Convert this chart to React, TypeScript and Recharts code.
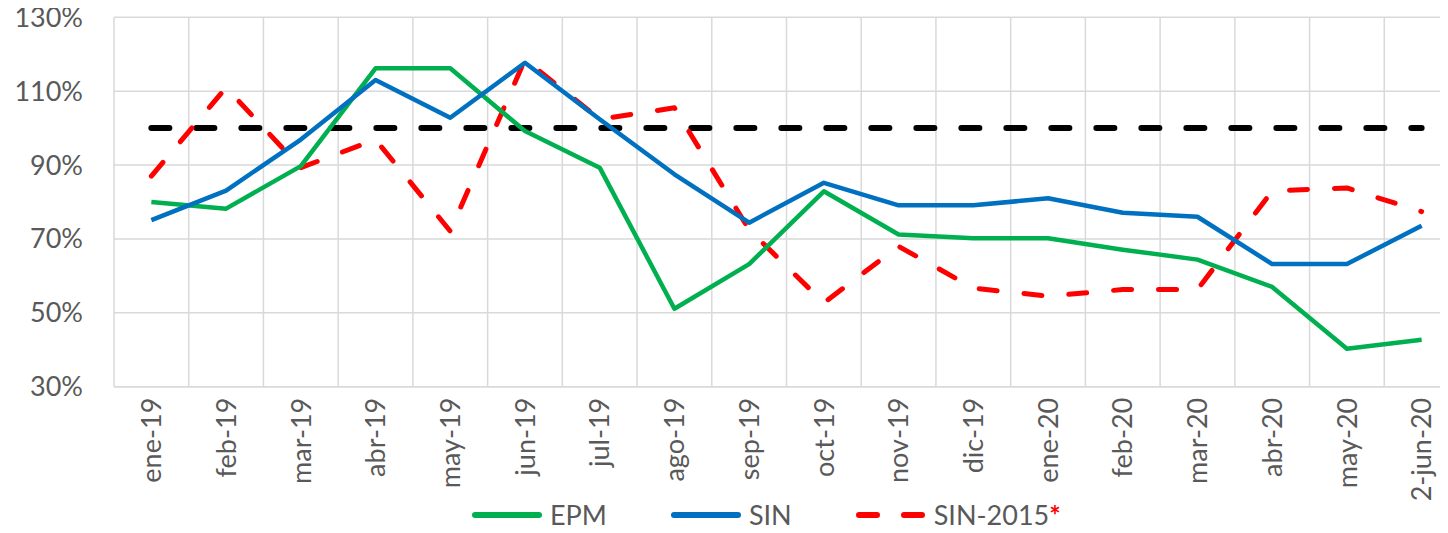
import React from 'react';
import { LineChart, Line, XAxis, YAxis, CartesianGrid, Legend } from 'recharts';

// categorías (meses)
const MESES = [
  'ene-19', 'feb-19', 'mar-19', 'abr-19', 'may-19', 'jun-19', 'jul-19', 'ago-19', 'sep-19',
  'oct-19', 'nov-19', 'dic-19', 'ene-20', 'feb-20', 'mar-20', 'abr-20', 'may-20', '2-jun-20',
];

// valores en %
const EPM = [80, 78.2, 89.7, 116.2, 116.2, 99.2, 89.3, 51.1, 63.2, 82.9, 71.2, 70.2, 70.2, 67.1, 64.4, 57, 40.3, 42.7];
const SIN = [75.1, 83.1, 96.9, 113, 102.8, 117.7, 102.4, 87.5, 74.4, 85.2, 79.1, 79.1, 81, 77.1, 76, 63.2, 63.2, 73.6];
const SIN_2015 = [87, 111, 89.3, 96.9, 72.1, 118.6, 102.4, 105.5, 72.5, 52.7, 68, 56.7, 54.5, 56.3, 56.3, 83, 83.8, 77.4];
const META = [100, 100, 100, 100, 100, 100, 100, 100, 100, 100, 100, 100, 100, 100, 100, 100, 100, 100];

const Y_TICKS = [30, 50, 70, 90, 110, 130];

const data = MESES.map((mes, i) => ({
  mes,
  epm: EPM[i],
  sin: SIN[i],
  sin2015: SIN_2015[i],
  meta: META[i],
}));

const FONT = 'Lato, "Open Sans", sans-serif';
const TEXT_COLOR = '#595959';
const GRID = '#D9D9D9';

const W = 1460;
const H = 533;
const TOP = 17.3;
const PLOT_H = 369.4;
const LEGEND_H = 26;

const YTick = (props: any) => {
  const { x, y, payload } = props;
  return (
    <text x={x} y={y} dy="0.35em" textAnchor="end" fontFamily={FONT} fontSize={27} fill={TEXT_COLOR}>
      {`${payload.value}%`}
    </text>
  );
};

const XTick = (props: any) => {
  const { x, y, payload } = props;
  const ty = y + 11;
  return (
    <text
      x={x}
      y={ty}
      dy="0.36em"
      textAnchor="end"
      transform={`rotate(-90, ${x}, ${ty})`}
      fontFamily={FONT}
      fontSize={27}
      fill={TEXT_COLOR}
    >
      {payload.value}
    </text>
  );
};

const LegendSample = ({ color, dashed }: { color: string; dashed?: boolean }) => (
  <svg width={70} height={10} style={{ display: 'block' }}>
    <line
      x1={3}
      y1={5}
      x2={67}
      y2={5}
      stroke={color}
      strokeWidth={6}
      strokeLinecap="round"
      strokeDasharray={dashed ? '18 27' : undefined}
    />
  </svg>
);

const renderLegend = () => {
  const items = [
    { name: 'EPM', color: '#00B050' },
    { name: 'SIN', color: '#0070C0' },
    { name: 'SIN-2015', color: '#FF0000', dashed: true, star: true },
  ];
  return (
    <div style={{ height: LEGEND_H, display: 'flex', alignItems: 'flex-start', paddingLeft: 464 }}>
      {items.map((it) => (
        <div
          key={it.name}
          style={{ display: 'flex', alignItems: 'center', height: 24, marginTop: -4, marginRight: 64 }}
        >
          <LegendSample color={it.color} dashed={it.dashed} />
          <span
            style={{
              marginLeft: 8,
              fontFamily: FONT,
              fontSize: 27,
              lineHeight: '24px',
              color: TEXT_COLOR,
              whiteSpace: 'nowrap',
            }}
          >
            {it.name}
            {it.star && <span style={{ color: '#FF0000', fontWeight: 700 }}>*</span>}
          </span>
        </div>
      ))}
    </div>
  );
};

export default function App() {
  return (
    <div style={{ width: 1440, height: H, overflow: 'hidden', marginTop: -8 }}>
      <LineChart width={W} height={H} data={data} margin={{ top: TOP, right: 9, left: 0, bottom: 0 }}>
        <CartesianGrid
          stroke={GRID}
          strokeWidth={1.5}
          verticalCoordinatesGenerator={({ offset }: any) =>
            MESES.map((_, i) => offset.left + (i * offset.width) / MESES.length)
          }
        />
        <XAxis
          dataKey="mes"
          scale="band"
          interval={0}
          height={H - TOP - PLOT_H - LEGEND_H}
          tickLine={false}
          tickSize={0}
          tickMargin={0}
          axisLine={{ stroke: GRID, strokeWidth: 1.5 }}
          tick={<XTick />}
        />
        <YAxis
          domain={[30, 130]}
          ticks={Y_TICKS}
          width={106}
          axisLine={false}
          tickLine={false}
          tickSize={0}
          tickMargin={31}
          tick={<YTick />}
        />
        <Legend verticalAlign="bottom" content={renderLegend} />
        <Line
          dataKey="meta"
          name="Meta"
          stroke="#000000"
          strokeWidth={6}
          strokeDasharray="18 27"
          strokeLinecap="round"
          dot={false}
          activeDot={false}
          isAnimationActive={false}
          legendType="none"
        />
        <Line
          dataKey="sin2015"
          name="SIN-2015"
          stroke="#FF0000"
          strokeWidth={5}
          strokeDasharray="18 27"
          strokeLinecap="round"
          strokeLinejoin="round"
          dot={false}
          isAnimationActive={false}
        />
        <Line
          dataKey="epm"
          name="EPM"
          stroke="#00B050"
          strokeWidth={4.5}
          strokeLinejoin="round"
          dot={false}
          isAnimationActive={false}
        />
        <Line
          dataKey="sin"
          name="SIN"
          stroke="#0070C0"
          strokeWidth={4.5}
          strokeLinejoin="round"
          dot={false}
          isAnimationActive={false}
        />
      </LineChart>
    </div>
  );
}
